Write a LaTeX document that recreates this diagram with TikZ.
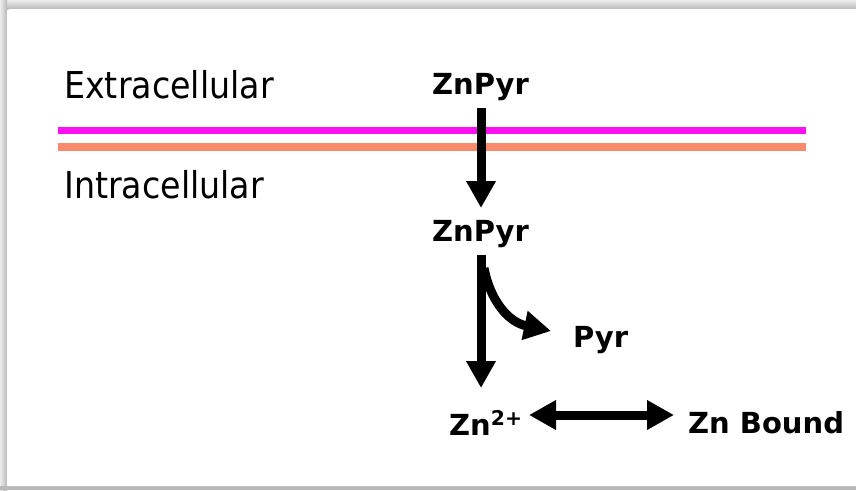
\documentclass[tikz,border=0pt]{standalone}
\usepackage{fontspec}
\setmainfont{DejaVu Sans}[FakeStretch=0.9]
\newfontfamily\lblfont{DejaVu Sans}
\usetikzlibrary{arrows.meta}
\definecolor{membA}{HTML}{FF10F0}
\definecolor{membB}{HTML}{F98B6C}
\definecolor{frameGray}{HTML}{B8B8B8}
\begin{document}
\begin{tikzpicture}[x=1pt,y=-1pt,
  region/.style={anchor=base west,inner sep=0pt,font=\fontsize{37}{40}\selectfont},
  species/.style={anchor=base west,inner sep=0pt,font=\lblfont\bfseries\fontsize{29}{32}\selectfont},
  flow/.style={line width=9pt,-{Triangle[width=28pt,length=27pt]}},
  exchange/.style={line width=9pt,{Triangle[width=28pt,length=27pt]}-{Triangle[width=28pt,length=27pt]}}]
  % canvas and panel frame
  \useasboundingbox (0,0) rectangle (856,490);
  \fill[white] (0,0) rectangle (856,490);
  \shade[top color=gray!15,bottom color=gray!55] (0,0) rectangle (856,9);
  \shade[left color=gray!15,right color=gray!55] (0,0) rectangle (7,490);
  \fill[frameGray] (0,486) rectangle (856,490);
  \fill[white,rounded corners=3pt] (7,9) rectangle (870,486);
  % membrane
  \fill[membA] (58,127) rectangle (806,134);
  \fill[membB] (58,143) rectangle (806,151);
  % labels
  \node[region] (ext) at (64,98) {Extracellular};
  \node[region] (int) at (64,198) {Intracellular};
  \node[species] (zp1) at (432,94) {ZnPyr};
  \node[species] (zp2) at (432,241) {ZnPyr};
  \node[species] (pyr) at (573,347) {Pyr};
  \node[species] (zn) at (449,435) {Zn\textsuperscript{2+}};
  \node[species] (znb) at (688,433) {Zn Bound};
  % transport and dissociation
  \coordinate (t1) at (481,108);
  \coordinate (t1e) at (481,208);
  \coordinate (t2) at (481,255);
  \coordinate (t2e) at (481,388);
  \coordinate (c0) at (484,268);
  \coordinate (c1) at (551,331);
  \draw[flow] (t1) -- (t1e);
  \draw[flow] (t2) -- (t2e);
  \draw[flow] (c0) .. controls (490,300) and (508,322) .. (c1);
  \coordinate (e0) at (529,415);
  \coordinate (e1) at (674,415);
  \draw[exchange] (e0) -- (e1);
\end{tikzpicture}
\end{document}
